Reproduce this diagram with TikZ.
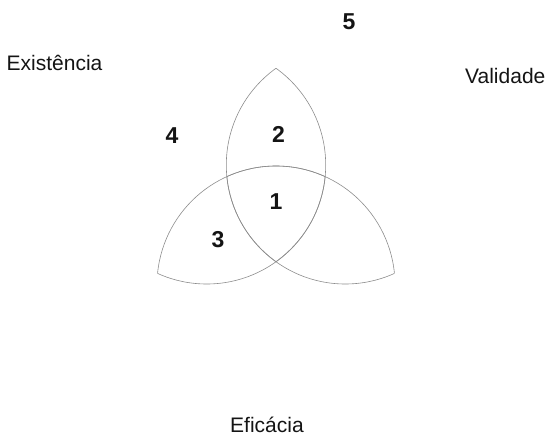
\documentclass[tikz,border=0pt]{standalone}
\usepackage{fontspec}
\setmainfont{Liberation Sans}
\usepackage{tikz}
\usetikzlibrary{positioning}
\definecolor{inkDark}{HTML}{141414}
\definecolor{arcGray}{HTML}{8C8C8C}

\begin{document}
\begin{tikzpicture}[x=1pt, y=-1pt,
  lbl/.style={inner sep=0pt, text=inkDark, font=\fontsize{21}{25}\selectfont},
  num/.style={inner sep=0pt, text=inkDark, font=\fontsize{23}{27}\selectfont\bfseries},
  lensarc/.style={draw=arcGray, line width=0.6pt}]
\useasboundingbox (0,0) rectangle (552,439);
% centres of the three circles
\coordinate (cUL) at (206.7,165);
\coordinate (cUR) at (345.3,165);
\coordinate (cB) at (276,285);
% each circle only where it lies inside another one
\foreach \p/\q in {cUL/cUR, cUR/cUL, cUL/cB, cB/cUL, cUR/cB, cB/cUR} {
  \begin{scope}
    \clip (\q) circle[radius=119pt];
    \draw[lensarc] (\p) circle[radius=119pt];
  \end{scope}
}
\node[lbl, anchor=base west] (exist) at (6.5,70.5) {Existência};
\node[lbl, anchor=base west] (valid) at (465,83) {Validade};
\node[lbl, anchor=base west] (efic) at (230,432) {Eficácia};
\foreach \v/\x/\y in {1/276/209, 2/278.5/142, 3/218/247, 4/172/143, 5/349/30} {
  \node[num, anchor=base] (r\v) at (\x,\y) {\v};
}
\end{tikzpicture}
\end{document}
